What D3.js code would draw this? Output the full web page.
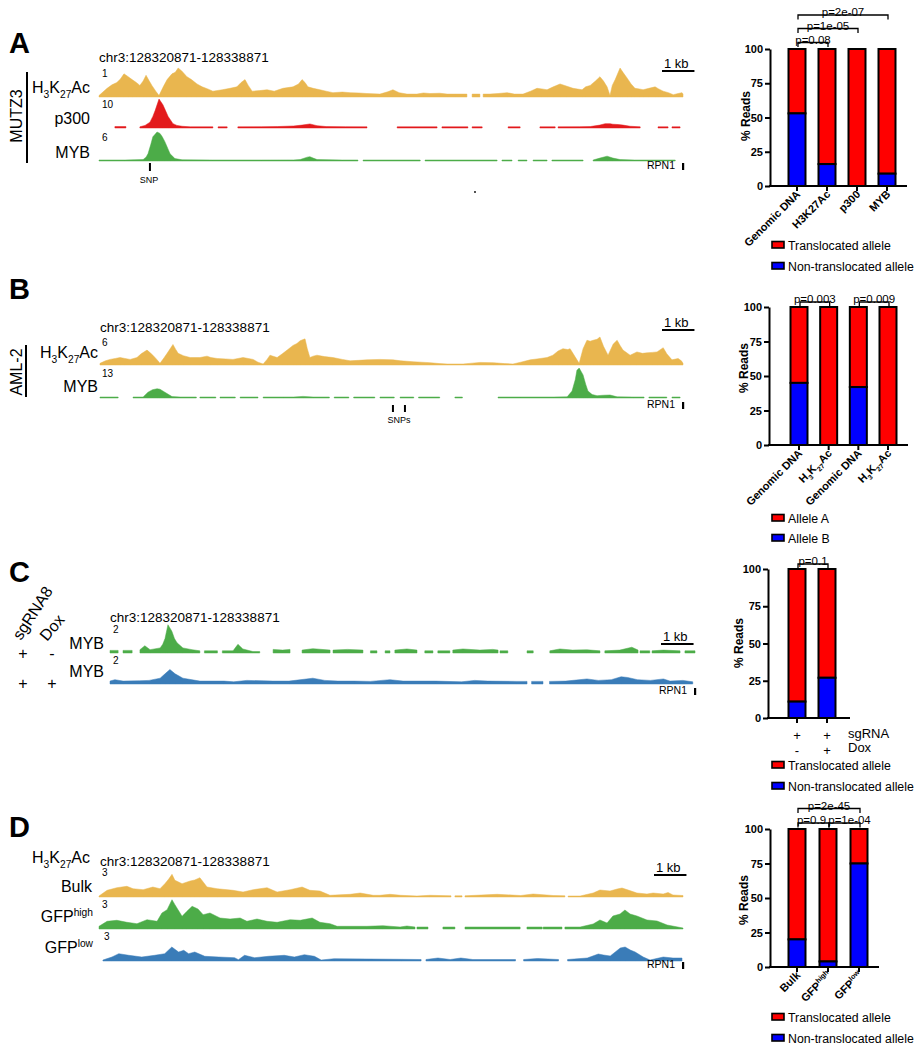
<!DOCTYPE html>
<html><head><meta charset="utf-8">
<script src="https://cdn.jsdelivr.net/npm/d3@7"></script>
<style>
body{margin:0;background:#fff;}
svg{display:block;font-family:Arial,"Liberation Sans",Helvetica,sans-serif;}
</style></head><body>
<svg id="fig" width="923" height="1050"></svg>
<script>
// ---------------- DATA ----------------
// genomic tracks: [kb offset from chr3:128320871, signal]; null = no data
const regionLabel = "chr3:128320871-128338871";
const regionKb = 18;

const A_H3K27Ac = [[0,0.05],[0.25,0.3],[0.4,0.42],[0.55,0.5],[0.66,0.62],[0.77,0.8],[0.9,0.7],[1.02,0.6],[1.15,0.5],[1.26,0.4],[1.36,0.55],[1.45,0.75],[1.55,0.55],[1.63,0.4],[1.75,0.2],[1.85,0.05],[1.98,0.35],[2.1,0.6],[2.25,0.8],[2.35,0.85],[2.44,1.0],[2.55,0.9],[2.71,0.7],[2.85,0.6],[3.02,0.45],[3.18,0.35],[3.35,0.28],[3.51,0.2],[3.8,0.25],[4.04,0.3],[4.25,0.35],[4.38,0.5],[4.5,0.6],[4.6,0.4],[4.72,0.2],[4.95,0.22],[5.18,0.25],[5.4,0.2],[5.67,0.3],[5.98,0.35],[6.15,0.45],[6.26,0.6],[6.35,0.5],[6.44,0.35],[6.6,0.3],[6.81,0.25],[7.0,0.2],[7.21,0.15],[7.5,0.17],[7.74,0.15],[8.0,0.14],[8.26,0.12],[8.66,0.1],[8.9,0.18],[9.06,0.25],[9.25,0.15],[9.49,0.1],[9.8,0.1],[10.0,0.14],[10.2,0.12],[10.5,0.13],[10.73,0.1],[11.0,0.1],[11.34,0.1],[11.4,null],[11.5,0.1],[11.74,0.1],[11.78,null],[11.84,0.1],[12.05,0.1],[12.3,0.12],[12.58,0.15],[12.8,0.1],[13.07,0.1],[13.3,0.2],[13.5,0.3],[13.65,0.28],[13.81,0.25],[14.0,0.35],[14.21,0.45],[14.4,0.38],[14.61,0.3],[14.89,0.25],[15.0,0.35],[15.14,0.4],[15.3,0.55],[15.44,0.7],[15.55,0.55],[15.66,0.35],[15.75,0.05],[15.82,0.4],[15.91,0.6],[16.06,1.0],[16.15,0.85],[16.28,0.65],[16.4,0.45],[16.52,0.3],[16.65,0.28],[16.77,0.25],[16.95,0.3],[17.14,0.35],[17.25,0.28],[17.39,0.2],[17.55,0.15],[17.7,0.08],[17.85,0.12],[17.97,0.15],[18,0.1]];

const A_p300 = [[0.49,0.5],[0.83,0.5],[0.9,null],[1.26,0.4],[1.42,0.9],[1.57,2],[1.66,4],[1.73,6],[1.85,10],[1.97,8],[2.05,6],[2.13,4],[2.28,1.5],[2.4,0.9],[2.56,0.6],[2.81,0.4],[3.51,0.4],[3.58,null],[3.67,0.4],[3.95,0.4],[4.1,null],[4.28,0.4],[5.0,0.45],[5.5,0.5],[6.0,0.7],[6.26,1.0],[6.5,1.4],[6.72,0.8],[7.0,0.5],[7.6,0.45],[8.26,0.4],[8.4,null],[9.19,0.4],[10.42,0.4],[10.5,null],[10.57,0.4],[11.37,0.4],[11.43,null],[11.5,0.4],[11.81,0.4],[11.9,null],[12.61,0.4],[12.98,0.4],[13.1,null],[13.59,0.4],[14.06,0.4],[14.1,null],[14.15,0.4],[14.8,0.45],[15.14,0.5],[15.44,1.0],[15.6,1.5],[15.75,1.5],[15.84,1.3],[16.0,1.2],[16.15,1.0],[16.37,0.6],[16.68,0.4],[16.75,null],[17.23,0.4],[17.54,0.4],[17.6,null],[17.66,0.4],[17.91,0.4]];

const A_MYB = [[0,0.2],[0.8,0.2],[1.36,0.3],[1.45,0.8],[1.51,1.5],[1.6,3.5],[1.66,5],[1.79,6],[1.88,5.7],[1.95,5.0],[2.03,4],[2.12,2.6],[2.19,1.5],[2.34,0.5],[2.56,0.25],[3.5,0.2],[5.0,0.2],[6.0,0.22],[6.2,0.3],[6.42,0.8],[6.5,0.9],[6.6,0.6],[6.72,0.3],[7.5,0.2],[7.98,0.2],[8.05,null],[8.14,0.2],[9.9,0.2],[9.95,null],[10.05,0.2],[12.27,0.2],[12.35,null],[12.42,0.2],[12.73,0.2],[12.8,null],[12.92,0.2],[13.19,0.2],[13.3,null],[13.38,0.2],[13.81,0.2],[13.9,null],[13.96,0.2],[14.92,0.2],[15.1,null],[15.23,0.2],[15.44,0.6],[15.66,1.0],[15.84,0.6],[16.06,0.3],[16.5,0.2],[17.76,0.2]];

const B_H3K27Ac = [[0.03,0.35],[0.2,0.9],[0.34,1.2],[0.5,1.4],[0.65,1.6],[0.8,1.4],[0.96,1.2],[1.17,1.6],[1.3,2.4],[1.48,3.2],[1.58,2.6],[1.66,2.1],[1.78,1.2],[1.88,0.35],[2.0,1.5],[2.1,2.5],[2.28,4.4],[2.36,3.4],[2.44,2.5],[2.6,2.0],[2.81,1.6],[3.11,1.6],[3.33,1.9],[3.45,1.6],[3.64,1.4],[3.9,1.3],[4.13,1.2],[4.44,1.6],[4.6,1.4],[4.75,1.2],[4.9,0.6],[5.06,0.15],[5.18,1.2],[5.27,2.1],[5.49,1.6],[5.65,2.4],[5.8,3.2],[5.98,4.2],[6.1,4.6],[6.2,5.2],[6.35,5.6],[6.42,3.5],[6.5,1.6],[6.6,1.9],[6.72,2.1],[6.95,1.8],[7.21,1.6],[7.5,1.2],[7.74,0.9],[8.0,1.0],[8.26,1.1],[8.66,1.2],[9.06,1.1],[9.3,0.9],[9.68,0.7],[10.2,0.5],[10.5,0.3],[10.73,0.15],[11.22,0.15],[11.5,0.4],[11.74,0.55],[12.15,0.5],[12.5,0.3],[12.76,0.15],[13.0,0.6],[13.29,1.1],[13.5,1.3],[13.81,1.6],[13.99,2.1],[14.15,3.0],[14.3,3.5],[14.45,3.3],[14.52,3.5],[14.67,1.8],[14.8,0.35],[14.92,3.5],[15.04,5.3],[15.14,5.1],[15.23,5.3],[15.35,5.5],[15.44,6.0],[15.55,4.0],[15.69,2.1],[15.85,4.5],[15.97,5.3],[16.06,4.2],[16.15,3.2],[16.37,2.1],[16.58,2.8],[16.75,2.5],[16.89,2.6],[17.05,2.7],[17.2,2.8],[17.39,3.7],[17.5,2.4],[17.66,1.1],[17.85,1.4],[17.95,0.9],[18,0.35]];

const B_MYB = [[0.03,0.25],[0.59,0.25],[0.65,null],[1.05,0.25],[1.36,0.3],[1.51,2.5],[1.65,3.6],[1.79,4.0],[1.88,3.8],[2.03,2.5],[2.25,0.6],[2.5,0.3],[3.0,0.25],[3.05,null],[3.11,0.25],[3.6,0.25],[3.65,null],[3.73,0.25],[4.2,0.25],[4.25,null],[4.35,0.25],[4.9,0.25],[4.95,null],[5.06,0.25],[5.7,0.25],[6.0,0.3],[6.29,0.7],[6.6,0.3],[7.1,0.25],[7.15,null],[7.25,0.25],[7.7,0.25],[7.75,null],[7.85,0.25],[8.5,0.25],[8.55,null],[8.66,0.25],[9.1,0.25],[9.15,null],[9.28,0.25],[9.7,0.25],[9.75,null],[9.85,0.25],[10.5,0.25],[10.55,null],[10.97,0.25],[11.2,0.25],[11.25,null],[12.3,0.25],[13.0,0.3],[14.0,0.3],[14.43,0.5],[14.58,3],[14.68,8],[14.73,12],[14.8,13],[14.92,10],[15.0,6],[15.07,3],[15.2,1.5],[15.35,1],[15.55,1.2],[15.75,1.3],[15.97,0.5],[16.46,0.3],[16.8,0.25],[16.85,null],[16.95,0.25],[17.5,0.25],[17.55,null],[17.66,0.25],[17.91,0.25]];

const C_MYB_noDox = [[0,0.18],[0.25,0.18],[0.3,null],[0.4,0.18],[0.68,0.18],[0.75,null],[0.92,0.23],[1.07,0.5],[1.23,0.23],[1.54,0.35],[1.62,0.6],[1.69,1.0],[1.78,1.95],[1.9,1.5],[1.98,1.0],[2.06,0.7],[2.24,0.35],[2.52,0.23],[2.76,0.15],[2.82,null],[2.9,0.15],[3.3,0.15],[3.35,null],[3.45,0.15],[3.78,0.15],[3.93,0.6],[4.08,0.28],[4.39,0.1],[4.6,0.1],[4.65,null],[5.01,0.25],[5.3,0.2],[5.53,0.25],[5.6,null],[5.9,0.2],[6.23,0.3],[6.76,0.2],[6.8,null],[6.85,0.2],[7.3,0.25],[7.77,0.2],[7.85,null],[8.0,0.15],[8.2,0.15],[8.3,null],[8.45,0.15],[8.6,0.15],[8.65,null],[8.75,0.2],[9.12,0.28],[9.43,0.2],[9.5,null],[9.67,0.15],[9.92,0.15],[9.97,null],[10.07,0.15],[10.44,0.15],[10.48,null],[10.53,0.2],[10.84,0.28],[11.36,0.2],[11.76,0.25],[11.92,0.2],[11.95,null],[11.98,0.15],[12.22,0.15],[12.3,null],[12.81,0.15],[13.0,0.15],[13.1,null],[13.51,0.15],[13.82,0.28],[14.2,0.2],[14.65,0.22],[15.05,0.15],[15.1,null],[15.2,0.15],[15.66,0.2],[16.03,0.4],[16.22,0.2],[16.25,null],[16.28,0.15],[16.58,0.15],[16.62,null],[16.65,0.15],[17.0,0.2],[17.51,0.15],[17.55,null],[17.66,0.15],[17.97,0.15]];

const C_MYB_Dox = [[0,0.2],[0.15,0.3],[0.4,0.2],[0.9,0.22],[1.2,0.25],[1.54,0.4],[1.69,0.7],[1.84,1.0],[2.0,0.7],[2.24,0.4],[2.76,0.2],[3.5,0.2],[3.8,0.15],[4.2,0.25],[5.0,0.2],[5.5,0.2],[6.23,0.4],[6.6,0.25],[7.0,0.2],[7.5,0.2],[8.0,0.18],[8.6,0.3],[9.0,0.2],[10.0,0.2],[10.8,0.15],[11.2,0.25],[11.6,0.2],[12.5,0.18],[12.81,0.18],[12.85,null],[12.95,0.18],[13.3,0.18],[13.35,null],[13.5,0.18],[14.0,0.2],[14.65,0.35],[15.0,0.25],[15.4,0.3],[15.7,0.5],[15.9,0.45],[16.2,0.3],[16.6,0.25],[17.0,0.35],[17.2,0.2],[17.6,0.25],[17.9,0.15]];

const D_Bulk = [[0,0.07],[0.25,0.67],[0.55,0.93],[0.86,1.07],[1.05,0.83],[1.36,0.73],[1.66,1.0],[1.88,0.83],[2.03,1.33],[2.15,1.8],[2.25,2.27],[2.34,1.67],[2.56,1.33],[2.81,1.6],[2.95,1.7],[3.11,1.93],[3.33,1.0],[3.64,0.83],[4.13,0.67],[4.44,0.5],[4.75,0.73],[5.18,0.93],[5.49,0.5],[5.89,0.73],[6.26,1.0],[6.5,0.67],[6.81,0.6],[7.12,0.17],[7.74,0.27],[8.05,0.4],[8.45,0.17],[8.66,0.17],[8.97,0.27],[9.3,0.17],[9.8,0.1],[10.2,0.17],[10.85,0.12],[10.88,null],[10.97,0.12],[11.19,0.12],[11.23,null],[11.28,0.12],[12.27,0.27],[13.0,0.15],[13.38,0.3],[14.0,0.15],[14.36,0.12],[14.4,null],[14.46,0.1],[14.83,0.1],[15.23,0.4],[15.44,0.7],[15.75,0.6],[15.97,0.8],[16.12,0.9],[16.31,0.7],[16.58,0.4],[16.89,0.3],[17.08,0.4],[17.39,0.3],[17.54,0.45],[17.69,0.2],[18,0.15]];

const D_GFPhigh = [[0,0.27],[0.25,0.77],[0.55,0.87],[0.86,0.67],[1.17,0.53],[1.48,0.93],[1.79,0.77],[1.94,1.6],[2.1,1.93],[2.25,2.93],[2.34,2.43],[2.56,1.27],[2.71,1.77],[2.87,2.27],[3.05,2.0],[3.21,1.43],[3.42,1.6],[3.73,1.1],[4.04,1.0],[4.35,1.1],[4.56,0.77],[4.87,1.0],[5.18,0.77],[5.49,0.67],[5.89,0.93],[6.2,0.87],[6.57,1.1],[6.81,0.67],[7.12,0.53],[7.34,0.27],[8.26,0.27],[8.75,0.33],[9.28,0.2],[9.49,0.3],[9.74,0.2],[9.77,null],[9.8,0.2],[10.14,0.2],[10.2,null],[10.6,0.2],[10.97,0.2],[11.05,null],[11.28,0.2],[12.98,0.2],[13.05,null],[13.19,0.2],[13.66,0.2],[13.68,null],[13.69,0.2],[14.27,0.2],[14.3,null],[14.36,0.2],[14.83,0.2],[15.23,0.5],[15.44,0.9],[15.66,0.6],[15.84,1.3],[16.06,1.5],[16.21,1.9],[16.37,1.5],[16.58,1.3],[16.89,0.9],[17.2,0.8],[17.51,0.4],[18,0.1]];

const D_GFPlow = [[0.06,0.07],[0.34,0.4],[0.55,0.73],[0.86,0.57],[1.26,0.4],[1.66,0.57],[1.97,0.73],[2.19,1.4],[2.4,0.9],[2.56,1.07],[2.71,0.73],[2.9,0.9],[3.21,0.47],[3.64,0.4],[4.13,0.33],[4.25,0.13],[4.44,0.57],[4.75,0.33],[5.18,0.47],[5.67,0.57],[5.98,0.4],[6.29,0.63],[6.6,0.47],[6.81,0.07],[7.21,0.23],[8.26,0.2],[9.28,0.17],[9.9,0.15],[9.95,null],[10.05,0.15],[10.42,0.3],[10.8,0.15],[11.13,0.3],[11.5,0.15],[12.82,0.15],[12.9,null],[13.07,0.15],[13.5,0.25],[14.15,0.15],[14.2,null],[14.43,0.15],[15.04,0.3],[15.38,0.7],[15.54,0.6],[15.75,0.5],[16.06,1.3],[16.21,1.4],[16.37,1.1],[16.52,0.9],[16.77,0.4],[16.98,0.1],[17.39,0.4],[17.69,0.3],[17.97,0.3]];

// track data-range maxima (the small numbers at each track's top-left)
const A_trackMax = [1, 10, 6];
const B_trackMax = [6, 13];
const C_trackMax = [2, 2];
const D_trackMax = [3, 3, 3];

// SNP positions (kb)
const A_snpKb = [1.57];
const B_snpKb = [9.06, 9.43];

// bar charts (% reads)
const yTicks = [0, 25, 50, 75, 100];

const A_barCats = ["Genomic DNA", "H3K27Ac", "p300", "MYB"];
const A_nonTranslocated = [53, 16, 0, 9];
const A_translocated = [47, 84, 100, 91];
const A_pLabels = ["p=0.08", "p=1e-05", "p=2e-07"];
const A_pPairs = [[0, 1], [0, 2], [0, 3]];

const B_barCats = ["Genomic DNA", "H3K27Ac", "Genomic DNA", "H3K27Ac"];
const B_alleleB = [45, 0, 42, 0];
const B_alleleA = [55, 100, 58, 100];
const B_pLabels = ["p=0.003", "p=0.009"];
const B_pPairs = [[0, 1], [2, 3]];

const C_sgRNA = ["+", "+"];
const C_dox = ["-", "+"];
const C_nonTranslocated = [11, 27];
const C_translocated = [89, 73];
const C_pLabels = ["p=0.1"];
const C_pPairs = [[0, 1]];

const D_barCats = ["Bulk", "GFPhigh", "GFPlow"];
const D_nonTranslocated = [20, 4, 75];
const D_translocated = [80, 96, 25];
const D_pLabels = ["p=0.9", "p=1e-04", "p=2e-45"];
const D_pPairs = [[0, 1], [1, 2], [0, 2]];

const legendTrans = ["Translocated allele", "Non-translocated allele"];
const legendAllele = ["Allele A", "Allele B"];

// ---------------- DRAWING ----------------
const COL = {orange:"#E9B64F", red:"#E31A1C", green:"#4CAC48", blue:"#3A7CB8", barRed:"#FF0000", barBlue:"#0000FF"};
const svg = d3.select("#fig");

function toRich(s){
  if (s === "H3K27Ac") return [["H"],["3","sub"],["K"],["27","sub"],["Ac"]];
  const m = s.match(/^GFP(high|low)$/);
  if (m) return [["GFP"],[m[1],"sup"]];
  return [[s]];
}
function richText(sel, segs, size){
  let off = 0;
  segs.forEach(s => {
    const t = s[1] || "n";
    const fs = t === "n" ? size : size * 0.64;
    const target = t === "sub" ? size * 0.32 : t === "sup" ? -size * 0.4 : 0;
    sel.append("tspan").attr("dy", target - off).attr("font-size", fs).text(s[0]);
    off = target;
  });
}
function txt(x, y, str, o = {}){
  const size = o.size || 16;
  const t = svg.append("text")
    .attr("font-size", size)
    .attr("text-anchor", o.anchor || "start")
    .attr("font-weight", o.weight || "normal")
    .attr("fill", "#000");
  if (o.rotate !== undefined) t.attr("transform", `translate(${x},${y}) rotate(${o.rotate})`);
  else t.attr("x", x).attr("y", y);
  richText(t, o.rich ? toRich(str) : [[str]], size);
  return t;
}
function vline(x, y1, y2, w = 2){
  svg.append("line").attr("x1", x).attr("x2", x).attr("y1", y1).attr("y2", y2).attr("stroke", "#000").attr("stroke-width", w);
}

function drawTrack(p){
  const x = d3.scaleLinear().domain([0, regionKb]).range([p.x0, p.x1]);
  const y = d3.scaleLinear().domain([0, p.max]).range([p.base, p.base - p.h]);
  const area = d3.area().defined(d => d[1] !== null)
    .x(d => x(d[0])).y0(p.base).y1(d => Math.min(y(d[1]), p.base - 1));
  svg.append("path").datum(p.data).attr("d", area)
    .attr("fill", p.color).attr("stroke", p.color).attr("stroke-width", 0.5).attr("stroke-linejoin", "round");
  txt(p.x0 + 3, p.base - p.h + 9, String(p.max), {size: 10});
  return x;
}

function drawRegionDecor(x, o){
  txt(o.chrX, o.chrY, regionLabel, {size: 13.5});
  const w = x(1) - x(0);
  txt(o.kbX + 2, o.kbY - 3, "1 kb", {size: 13});
  svg.append("line").attr("x1", o.kbX).attr("x2", o.kbX + w).attr("y1", o.kbY).attr("y2", o.kbY)
    .attr("stroke", "#000").attr("stroke-width", 2);
  txt(o.rpnX - 8, o.rpnY, "RPN1", {size: 10.5, anchor: "end"});
  svg.append("rect").attr("x", o.rpnX - 1).attr("y", o.rpnY - 6).attr("width", 2.2).attr("height", 7).attr("fill", "#000");
}

function drawBars(p){
  const g = svg.append("g");
  const n = p.lower.length;
  const y = d3.scaleLinear().domain([0, 100]).range([p.y0, p.y100]);
  const x = d3.scalePoint().domain(d3.range(n)).range([p.c0, p.c1]);
  const bw = 17;
  d3.range(n).forEach(i => {
    const lo = p.lower[i], hi = lo + p.upper[i];
    g.append("rect").attr("x", x(i) - bw/2).attr("y", y(hi)).attr("width", bw).attr("height", y(lo) - y(hi))
      .attr("fill", COL.barRed).attr("stroke", "#000").attr("stroke-width", 2);
    if (lo > 0) g.append("rect").attr("x", x(i) - bw/2).attr("y", y(lo)).attr("width", bw).attr("height", y(0) - y(lo))
      .attr("fill", COL.barBlue).attr("stroke", "#000").attr("stroke-width", 2);
  });
  const ax = g.append("g").attr("transform", `translate(${p.axisX},0)`)
    .call(d3.axisLeft(y).tickValues(yTicks).tickSize(5).tickSizeOuter(0).tickPadding(2));
  ax.select(".domain").attr("stroke-width", 2);
  ax.selectAll(".tick line").attr("stroke-width", 2);
  ax.selectAll(".tick text").attr("font-size", 11).attr("font-weight", "bold")
    .attr("font-family", "Arial, 'Liberation Sans', sans-serif").attr("fill", "#000");
  g.append("line").attr("x1", p.axisX - 1).attr("x2", p.axisEnd).attr("y1", p.y0).attr("y2", p.y0)
    .attr("stroke", "#000").attr("stroke-width", 2);
  d3.range(n).forEach(i => {
    g.append("line").attr("x1", x(i)).attr("x2", x(i)).attr("y1", p.y0).attr("y2", p.y0 + 5)
      .attr("stroke", "#000").attr("stroke-width", 2);
  });
  if (p.cats) p.cats.forEach((c, i) => {
    txt(x(i) + 4, p.y0 + 9, c, {size: 11, weight: "bold", anchor: "end", rotate: -45, rich: p.rich});
  });
  txt(p.titleX, p.titleY, "% Reads", {size: 12, weight: "bold", anchor: "middle", rotate: -90});
  p.pLabels.forEach((lab, k) => {
    const [a, b] = p.pPairs[k], yb = p.pY[k];
    const dx = p.pDx ? p.pDx[k] : 0;
    g.append("path").attr("d", `M${x(a)+1},${yb+4.5}V${yb}H${x(b)+1}V${yb+4.5}`)
      .attr("fill", "none").attr("stroke", "#000").attr("stroke-width", 1.3);
    txt((x(a) + x(b)) / 2 + 1 + dx, yb + 1, lab, {size: 11.5, anchor: "middle"});
  });
  p.legend.forEach((lab, k) => {
    const ly = p.legY[k];
    g.append("rect").attr("x", 772).attr("y", ly - 8.5).attr("width", 12).attr("height", 6.5)
      .attr("fill", k === 0 ? COL.barRed : COL.barBlue).attr("stroke", "#000").attr("stroke-width", 1.6);
    txt(788, ly, lab, {size: 12.3});
  });
  return x;
}

// ---- panel letters ----
[["A", 53], ["B", 299], ["C", 582], ["D", 837]].forEach(([l, yy]) => txt(9, yy, l, {size: 29, weight: "bold"}));

// ---------- Panel A ----------
{
  const x0 = 99, x1 = 683;
  const xs = drawTrack({x0, x1, base: 97, h: 29, max: A_trackMax[0], data: A_H3K27Ac, color: COL.orange});
  drawTrack({x0, x1, base: 128, h: 29, max: A_trackMax[1], data: A_p300, color: COL.red});
  drawTrack({x0, x1, base: 161, h: 29, max: A_trackMax[2], data: A_MYB, color: COL.green});
  drawRegionDecor(xs, {chrX: 99, chrY: 62, kbX: 662, kbY: 71, rpnX: 683, rpnY: 169});
  txt(90, 93, "H3K27Ac", {rich: true, anchor: "end"});
  txt(90, 124, "p300", {anchor: "end"});
  txt(90, 158, "MYB", {anchor: "end"});
  txt(21.5, 116, "MUTZ3", {anchor: "middle", rotate: -90});
  vline(27, 72, 163);
  A_snpKb.forEach(k => vline(xs(k), 163, 171, 2));
  txt(xs(A_snpKb[0]) - 1, 183, "SNP", {size: 9, anchor: "middle"});
  svg.append("circle").attr("cx", 475).attr("cy", 192).attr("r", 0.9).attr("fill", "#000");

  drawBars({axisX: 770, axisEnd: 907, y0: 186, y100: 49, c0: 797, c1: 887,
    lower: A_nonTranslocated, upper: A_translocated, cats: A_barCats, rich: false,
    titleX: 750, titleY: 116, pLabels: A_pLabels, pPairs: A_pPairs, pY: [42.5, 28.5, 15],
    legend: legendTrans, legY: [250, 271]});
}

// ---------- Panel B ----------
{
  const x0 = 99, x1 = 683;
  const xs = drawTrack({x0, x1, base: 365, h: 28, max: B_trackMax[0], data: B_H3K27Ac, color: COL.orange});
  drawTrack({x0, x1, base: 398, h: 30, max: B_trackMax[1], data: B_MYB, color: COL.green});
  drawRegionDecor(xs, {chrX: 100, chrY: 332, kbX: 662, kbY: 330, rpnX: 683, rpnY: 408});
  txt(98, 358, "H3K27Ac", {rich: true, anchor: "end"});
  txt(98, 392, "MYB", {anchor: "end"});
  txt(21.5, 372, "AML-2", {anchor: "middle", rotate: -90});
  vline(26, 345, 397);
  B_snpKb.forEach(k => vline(xs(k), 405, 412, 2));
  txt((xs(B_snpKb[0]) + xs(B_snpKb[1])) / 2, 423, "SNPs", {size: 9, anchor: "middle"});

  drawBars({axisX: 769, axisEnd: 908, y0: 445, y100: 307, c0: 799, c1: 888,
    lower: B_alleleB, upper: B_alleleA, cats: B_barCats, rich: true,
    titleX: 748, titleY: 368, pLabels: B_pLabels, pPairs: B_pPairs, pY: [302, 302],
    legend: legendAllele, legY: [523, 543]});
}

// ---------- Panel C ----------
{
  const x0 = 110, x1 = 696;
  const xs = drawTrack({x0, x1, base: 653, h: 29, max: C_trackMax[0], data: C_MYB_noDox, color: COL.green});
  drawTrack({x0, x1, base: 684, h: 29, max: C_trackMax[1], data: C_MYB_Dox, color: COL.blue});
  drawRegionDecor(xs, {chrX: 110, chrY: 622, kbX: 661, kbY: 644, rpnX: 695, rpnY: 694});
  txt(104, 649, "MYB", {anchor: "end"});
  txt(104, 677, "MYB", {anchor: "end"});
  txt(21, 641, "sgRNA8", {rotate: -57});
  txt(47, 642, "Dox", {rotate: -50});
  txt(23, 659, C_sgRNA[0], {anchor: "middle"});
  txt(52, 659, C_dox[0], {anchor: "middle"});
  txt(23, 689, C_sgRNA[1], {anchor: "middle"});
  txt(52, 689, C_dox[1], {anchor: "middle"});

  const xb = drawBars({axisX: 768, axisEnd: 850, y0: 718, y100: 569, c0: 797, c1: 827,
    lower: C_nonTranslocated, upper: C_translocated, cats: null,
    titleX: 743, titleY: 643, pLabels: C_pLabels, pPairs: C_pPairs, pY: [564],
    legend: legendTrans, legY: [770, 791]});
  C_sgRNA.forEach((s, i) => txt(xb(i), 740, s, {size: 13, anchor: "middle"}));
  C_dox.forEach((s, i) => txt(xb(i), 755, s, {size: 13, anchor: "middle"}));
  txt(848, 738, "sgRNA", {size: 13});
  txt(848, 752, "Dox", {size: 13});
}

// ---------- Panel D ----------
{
  const x0 = 99, x1 = 683;
  const xs = drawTrack({x0, x1, base: 897, h: 30, max: D_trackMax[0], data: D_Bulk, color: COL.orange});
  drawTrack({x0, x1, base: 929, h: 30, max: D_trackMax[1], data: D_GFPhigh, color: COL.green});
  drawTrack({x0: x0 + 2, x1, base: 961, h: 30, max: D_trackMax[2], data: D_GFPlow, color: COL.blue});
  drawRegionDecor(xs, {chrX: 100, chrY: 866, kbX: 654, kbY: 875, rpnX: 683, rpnY: 968});
  txt(90, 863, "H3K27Ac", {rich: true, anchor: "end"});
  txt(92, 892, "Bulk", {anchor: "end"});
  txt(93, 922, "GFPhigh", {rich: true, anchor: "end"});
  txt(93, 953, "GFPlow", {rich: true, anchor: "end"});

  drawBars({axisX: 770, axisEnd: 879, y0: 967, y100: 829, c0: 797, c1: 859,
    lower: D_nonTranslocated, upper: D_translocated, cats: D_barCats, rich: true,
    titleX: 748, titleY: 900, pLabels: D_pLabels, pPairs: D_pPairs, pY: [823, 823, 808.5], pDx: [-2, 5, 0],
    legend: legendTrans, legY: [1022, 1043]});
}
</script>
</body></html>
